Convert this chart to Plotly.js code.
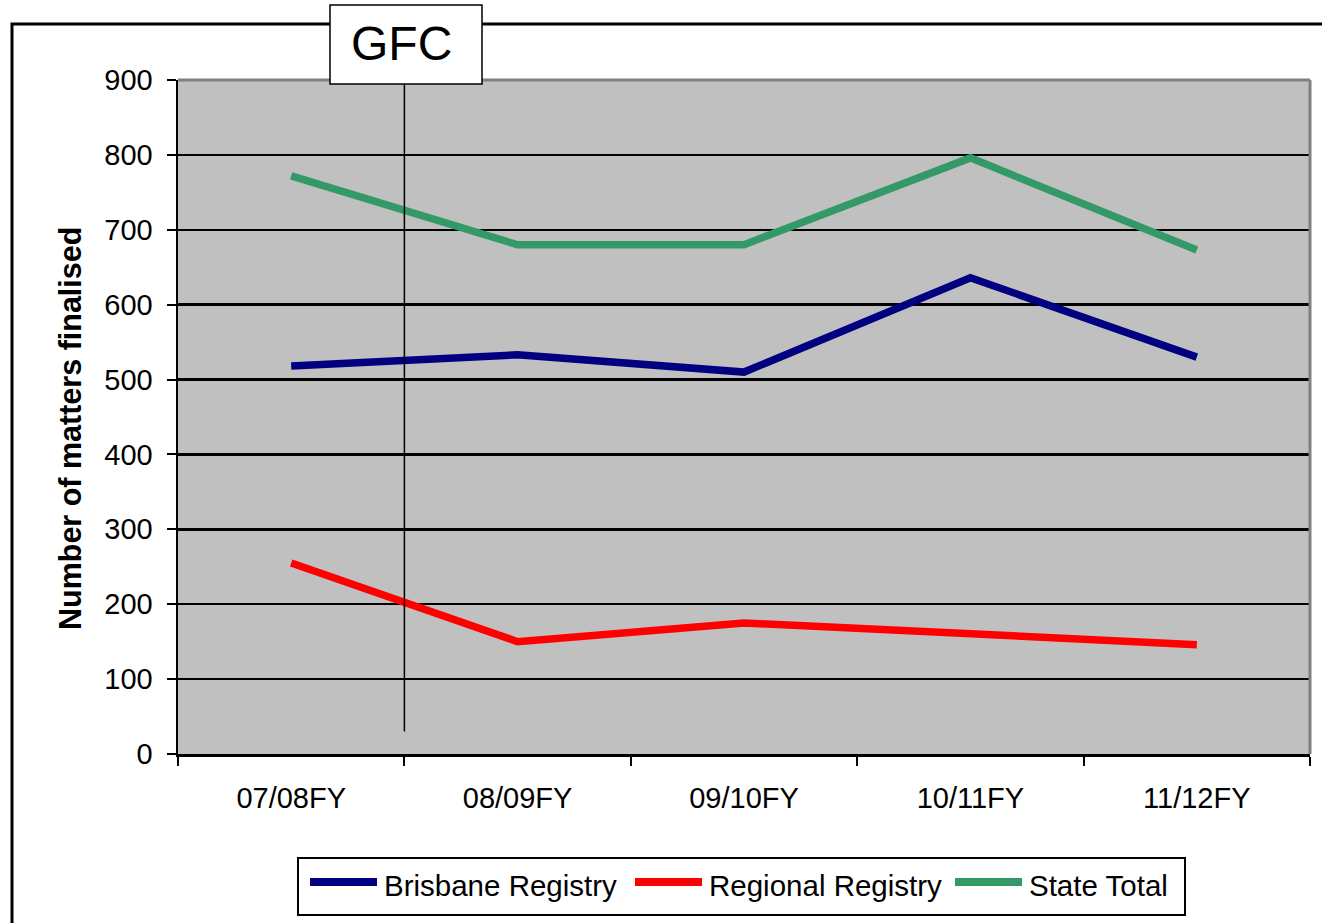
<!DOCTYPE html>
<html>
<head>
<meta charset="utf-8">
<script src="https://cdn.plot.ly/plotly-3.0.1.min.js"></script>
<style>html,body{margin:0;padding:0;background:#fff;}#chart{width:1322px;height:923px;}</style>
</head>
<body>
<div id="chart"></div>
<script>
const categories = ["07/08FY", "08/09FY", "09/10FY", "10/11FY", "11/12FY"];
const brisbane = [518, 533, 510, 636, 530];
const regional = [255, 150, 175, 160, 146];
const stateTotal = [772, 680, 680, 796, 673];
const seriesNames = ["Brisbane Registry", "Regional Registry", "State Total"];
const seriesColors = ["#000080", "#FF0000", "#339966"];
const yTicks = [0, 100, 200, 300, 400, 500, 600, 700, 800, 900];
const eventLabel = "GFC";
const yTitle = "Number of matters finalised";

const F = "Liberation Sans, Arial, sans-serif";
const seriesValues = [brisbane, regional, stateTotal];
const traces = seriesValues.map((y, i) => ({
  x: categories, y: y, name: seriesNames[i], type: "scatter", mode: "lines",
  line: {color: seriesColors[i], width: 7.5}, hoverinfo: "skip", showlegend: false
}));

const L = 178, R = 1310, T = 80, B = 754;
const pw = R - L, ph = B - T;
const px = v => (v - L) / pw;
const py = v => (B - v) / ph;

const shapes = [
  {type: "rect", xref: "paper", yref: "paper", x0: px(12), x1: px(1340), y0: py(960), y1: py(24),
   line: {color: "#000", width: 3}, fillcolor: "rgba(0,0,0,0)", layer: "above"},
  {type: "line", xref: "paper", yref: "paper", x0: 0, x1: 1, y0: 1, y1: 1,
   line: {color: "#808080", width: 3}, layer: "above"},
  {type: "line", xref: "paper", yref: "paper", x0: 1, x1: 1, y0: 0, y1: 1,
   line: {color: "#808080", width: 3}, layer: "above"},
  {type: "line", xref: "x", yref: "y", x0: 0.5, x1: 0.5, y0: 30, y1: 895,
   line: {color: "#000", width: 1.5}, layer: "above"},
  {type: "rect", xref: "paper", yref: "paper", x0: px(330), x1: px(482), y0: py(84), y1: py(5),
   line: {color: "#000", width: 1.5}, fillcolor: "#fff", layer: "above"},
  // legend box
  {type: "rect", xref: "paper", yref: "paper", x0: px(298), x1: px(1185), y0: py(915), y1: py(858),
   line: {color: "#000", width: 2}, fillcolor: "#fff", layer: "above"}
];
const annotations = [
  {xref: "paper", yref: "paper", x: px(401), y: py(44), text: eventLabel, showarrow: false,
   xanchor: "center", yanchor: "middle", font: {family: F, size: 48, color: "#000"}},
  {xref: "paper", yref: "paper", x: px(70), y: py(429), text: "<b>" + yTitle + "</b>", showarrow: false,
   textangle: -90, xanchor: "center", yanchor: "middle", font: {family: F, size: 30.5, color: "#000"}}
];
// custom legend entries
const symX = [310, 635, 955];
const legY = 885;
seriesNames.forEach((n, i) => {
  shapes.push({type: "line", xref: "paper", yref: "paper", x0: px(symX[i]), x1: px(symX[i] + 67),
    y0: py(882), y1: py(882), line: {color: seriesColors[i], width: 8}, layer: "above"});
  annotations.push({xref: "paper", yref: "paper", x: px(symX[i] + 72), y: py(legY), text: n,
    showarrow: false, xanchor: "left", yanchor: "middle",
    font: {family: F, size: 29.5, color: "#000"}});
});

const layout = {
  width: 1322, height: 923,
  margin: {l: L, r: 1322 - R, t: T, b: 923 - B},
  paper_bgcolor: "#ffffff",
  plot_bgcolor: "#C0C0C0",
  showlegend: false,
  font: {family: F, color: "#000", size: 29},
  xaxis: {
    type: "category", range: [-0.5, 4.5], tickson: "boundaries",
    ticks: "outside", ticklen: 9, tickwidth: 2, tickcolor: "#000",
    showline: true, linecolor: "#000", linewidth: 2.5, showgrid: false,
    zeroline: false, tickfont: {family: F, size: 29, color: "#000"},
    ticklabelstandoff: 17, fixedrange: true
  },
  yaxis: {
    range: [0, 900], tickvals: yTicks, ticktext: yTicks.map(String),
    ticks: "outside", ticklen: 9, tickwidth: 2, tickcolor: "#000",
    showline: true, linecolor: "#000", linewidth: 2.5,
    showgrid: true, gridcolor: "#000", gridwidth: 2.5, zeroline: false,
    tickfont: {family: F, size: 29, color: "#000"}, ticklabelstandoff: 8,
    fixedrange: true
  },
  shapes: shapes,
  annotations: annotations
};

Plotly.newPlot("chart", traces, layout, {displayModeBar: false, staticPlot: true});
</script>
</body>
</html>
